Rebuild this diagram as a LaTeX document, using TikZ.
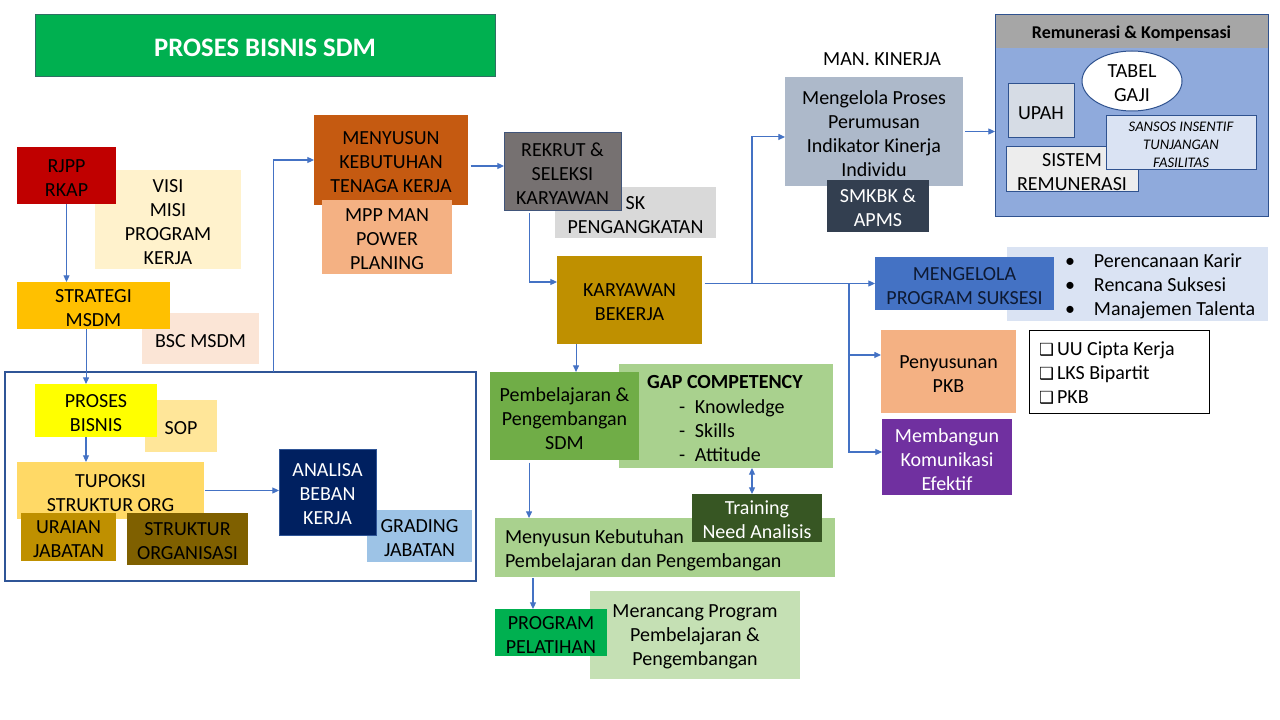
\documentclass[tikz,border=0pt]{standalone}
\usepackage{fontspec}
\setmainfont{Carlito}
\newfontfamily\djv{DejaVu Sans}
\usetikzlibrary{arrows.meta,shapes.geometric,calc}
\definecolor{cTitle}{HTML}{00B050}
\definecolor{cTitleB}{HTML}{2F6F63}
\definecolor{cRed}{HTML}{C00000}
\definecolor{cVisi}{HTML}{FFF2CC}
\definecolor{cStrat}{HTML}{FFC000}
\definecolor{cBsc}{HTML}{FBE5D6}
\definecolor{cFrame}{HTML}{2F5597}
\definecolor{cProses}{HTML}{FFFF00}
\definecolor{cSop}{HTML}{FFE699}
\definecolor{cTup}{HTML}{FFD966}
\definecolor{cUra}{HTML}{BF9000}
\definecolor{cStruk}{HTML}{7F6000}
\definecolor{cAnal}{HTML}{002060}
\definecolor{cAnalB}{HTML}{2F5597}
\definecolor{cGrad}{HTML}{9DC3E6}
\definecolor{cMeny}{HTML}{C55A11}
\definecolor{cMpp}{HTML}{F4B183}
\definecolor{cRek}{HTML}{767171}
\definecolor{cRekB}{HTML}{41557A}
\definecolor{cSk}{HTML}{D9D9D9}
\definecolor{cKar}{HTML}{BF9000}
\definecolor{cMkin}{HTML}{ADB9CA}
\definecolor{cSmk}{HTML}{333F50}
\definecolor{cRemB}{HTML}{8FAADC}
\definecolor{cRemH}{HTML}{A6A6A6}
\definecolor{cBord}{HTML}{2F528F}
\definecolor{cUpah}{HTML}{D6DCE5}
\definecolor{cSansos}{HTML}{DAE3F3}
\definecolor{cSistem}{HTML}{EDEDED}
\definecolor{cBul}{HTML}{DAE3F3}
\definecolor{cSuk}{HTML}{4472C4}
\definecolor{cSukT}{HTML}{0E1A33}
\definecolor{cPkb}{HTML}{F4B183}
\definecolor{cKom}{HTML}{7030A0}
\definecolor{cGap}{HTML}{A9D18E}
\definecolor{cPemb}{HTML}{70AD47}
\definecolor{cMkeb}{HTML}{A9D18E}
\definecolor{cTna}{HTML}{375623}
\definecolor{cMer}{HTML}{C5E0B4}
\definecolor{cProg}{HTML}{00B050}
\definecolor{arrowc}{HTML}{4472C4}
\tikzset{
  bx/.style={inner sep=0pt, outer sep=0pt, align=center, text=black,
    font=\fontsize{15}{18}\selectfont},
  arr/.style={draw=arrowc, line width=0.8pt, -{Triangle[length=5pt,width=4.5pt]}},
  darr/.style={draw=arrowc, line width=0.8pt, {Triangle[length=5pt,width=4.5pt]}-{Triangle[length=5pt,width=4.5pt]}},
}
% \bxn{name}{x1}{y1}{x2}{y2}{box options}{text options}{text}  (pixel coordinates)
\newcommand\bxn[8]{%
  \pgfmathsetmacro\bxw{(#4-#2)*0.75}%
  \pgfmathsetmacro\bxh{(#5-#3)*0.75}%
  \node[bx, minimum width=\bxw pt, minimum height=\bxh pt, #6] (#1) at ({(#2+#4)/2},{(#3+#5)/2}) {};
  \node[bx, #7] (#1-t) at ([yshift=-1.6pt]#1.center) {#8};}
\newcommand\chkbox{\makebox[13.5pt][l]{\djv\fontsize{12.5}{12.5}\selectfont ❑}}
\newcommand\bulitem{\makebox[21.75pt][l]{•}}
\newcommand\dashitem{\makebox[12pt][l]{-}}
\begin{document}
\begin{tikzpicture}[x=0.75pt,y=-0.75pt]
\useasboundingbox (0,0) rectangle (1280,720);
\fill[white] (0,0) rectangle (1280,720);
% title
\bxn{title}{35}{15}{495}{77}{fill=cTitle, draw=cTitleB, line width=0.75pt}{text=white, font=\bfseries\fontsize{20}{24}\selectfont}{PROSES BISNIS SDM}
% left column
\bxn{visi}{95}{170}{241}{269}{fill=cVisi}{}{VISI\\MISI\\PROGRAM\\KERJA}
\bxn{rjpp}{17}{147}{116}{204}{fill=cRed}{}{RJPP\\RKAP}
\bxn{bsc}{142}{313}{259}{364}{fill=cBsc}{}{BSC MSDM}
\bxn{strat}{17}{282}{170}{329}{fill=cStrat}{}{STRATEGI\\MSDM}
\node[bx, draw=cFrame, line width=0.8pt, minimum width=353.25pt, minimum height=156.75pt] (frame) at (240.5,476.5) {};
\bxn{sop}{145}{400}{217}{452}{fill=cSop}{}{SOP}
\bxn{proses}{35}{384}{157}{437}{fill=cProses}{}{PROSES\\BISNIS}
\bxn{tup}{17}{462}{204}{519}{fill=cTup}{}{TUPOKSI\\STRUKTUR ORG}
\bxn{ura}{21}{513}{116}{561}{fill=cUra}{}{URAIAN\\JABATAN}
\bxn{struk}{127}{513}{248}{565}{fill=cStruk}{}{STRUKTUR\\ORGANISASI}
\bxn{grad}{367}{510}{472}{562}{fill=cGrad}{}{GRADING\\JABATAN}
\bxn{anal}{279}{449}{376}{535}{fill=cAnal, draw=cAnalB, line width=0.75pt}{text=white}{ANALISA\\BEBAN\\KERJA}
% middle top
\bxn{meny}{314}{115}{468}{205}{fill=cMeny}{}{MENYUSUN\\KEBUTUHAN\\TENAGA KERJA}
\bxn{mpp}{322}{200}{452}{274}{fill=cMpp}{}{MPP MAN\\POWER\\PLANING}
\bxn{sk}{555}{187}{716}{238}{fill=cSk}{}{SK\\PENGANGKATAN}
\bxn{rek}{504}{133}{621}{211}{fill=cRek, draw=cRekB, line width=0.75pt}{}{REKRUT \&\\SELEKSI\\KARYAWAN}
\bxn{kar}{557}{256}{702}{344}{fill=cKar}{}{KARYAWAN\\BEKERJA}
% kinerja
\node[bx] (mank) at (882,59) {MAN. KINERJA};
\bxn{mkin}{785}{77}{963}{186}{fill=cMkin}{}{Mengelola Proses\\Perumusan\\Indikator Kinerja\\Individu}
\bxn{smk}{827}{180}{929}{232}{fill=cSmk}{text=white}{SMKBK \&\\APMS}
% remunerasi
\node[bx, fill=cRemB, draw=cBord, line width=0.75pt, minimum width=204.75pt, minimum height=151.5pt] (rem) at (1131.5,116) {};
\bxn{remh}{995.5}{15.5}{1267.5}{48}{fill=cRemH}{font=\bfseries\fontsize{13.5}{16}\selectfont}{Remunerasi \& Kompensasi}
\node[bx, ellipse, draw=cBord, line width=0.75pt, fill=white, minimum width=75pt, minimum height=45pt] (tabel) at (1132,81) {};
\node[bx] (tabel-t) at ([yshift=-1.6pt]tabel.center) {TABEL\\GAJI};
\bxn{upah}{1008}{84}{1074}{138}{fill=cUpah, draw=cBord, line width=0.75pt}{}{UPAH}
\bxn{sistem}{1006}{147}{1138}{192}{fill=cSistem, draw=cBord, line width=0.75pt}{}{SISTEM\\REMUNERASI}
\bxn{sansos}{1106}{116}{1256}{170}{fill=cSansos, draw=cBord, line width=0.75pt}{font=\itshape\fontsize{11}{13.5}\selectfont}{SANSOS INSENTIF\\TUNJANGAN\\FASILITAS}
% suksesi
\node[bx, fill=cBul, minimum width=195.75pt, minimum height=55.5pt] (bul) at (1137.5,284) {};
\node[bx, anchor=west, align=left] (bult) at (1065,286) {\bulitem Perencanaan Karir\\\bulitem Rencana Suksesi\\\bulitem Manajemen Talenta};
\bxn{suk}{875}{257}{1054}{310}{fill=cSuk}{text=cSukT}{MENGELOLA\\PROGRAM SUKSESI}
% pkb
\bxn{pkb}{881}{330}{1016}{413}{fill=cPkb}{}{Penyusunan\\PKB}
\node[bx, draw=black, line width=0.75pt, fill=white, minimum width=135pt, minimum height=62.25pt] (chk) at (1119,371.5) {};
\node[bx, anchor=west, align=left] (chkt) at (1039,373) {\chkbox UU Cipta Kerja\\\chkbox LKS Bipartit\\\chkbox PKB};
\bxn{kom}{882}{419}{1012}{495}{fill=cKom}{text=white}{Membangun\\Komunikasi\\Efektif}
% learning
\node[bx, fill=cGap, minimum width=160.5pt, minimum height=78pt] (gap) at (726,416) {};
\node[bx, anchor=west, font=\bfseries\fontsize{15}{18}\selectfont] (gapt) at (647,382) {GAP COMPETENCY};
\node[bx, anchor=west, align=left] (gapl) at (679,431) {\dashitem Knowledge\\\dashitem Skills\\\dashitem Attitude};
\bxn{pemb}{490}{372}{639}{460}{fill=cPemb}{}{Pembelajaran \&\\Pengembangan\\SDM}
\node[bx, fill=cMkeb, minimum width=255pt, minimum height=44.25pt] (mkeb) at (665,547.5) {};
\node[bx, anchor=west, align=left] (mkebt) at (505,550) {Menyusun Kebutuhan\\Pembelajaran dan Pengembangan};
\bxn{tna}{692}{494}{822}{542}{fill=cTna}{text=white}{Training\\Need Analisis}
\bxn{mer}{590}{591}{800}{679}{fill=cMer}{}{Merancang Program\\Pembelajaran \&\\Pengembangan}
\bxn{prog}{495}{609}{607}{656}{fill=cProg}{}{PROGRAM\\PELATIHAN}
% junctions
\coordinate (j1) at (752,284);
\coordinate (j2) at (849,284);
% connectors
\draw[arr] (rjpp.south) -- (rjpp.south |- strat.north);
\draw[arr] ([xshift=-5.6pt]strat.south) -- ([xshift=-5.6pt]strat.south |- proses.north);
\draw[arr] ([xshift=-7.5pt]proses.south) -- ([xshift=-7.5pt]proses.south |- tup.north);
\draw[arr, shorten <=1pt] (tup.east) -- (tup.east -| anal.west);
\draw[arr] ([xshift=24.4pt]frame.north) |- (meny.west);
\draw[arr, shorten <=2pt] ([yshift=-4.5pt]meny.east) -- ([yshift=-4.5pt]meny.east -| rek.west);
\draw[arr, shorten <=1.5pt] ([xshift=-25.1pt]rek.south) |- ([yshift=13.5pt]kar.west);
\draw[arr, shorten <=2pt] (kar.east |- suk.west) -- (suk.west);
\draw[arr] (j1) |- ([yshift=-4.1pt]mkin.west);
\draw[arr] (j2) |- ([yshift=12.4pt]pkb.west);
\draw[arr] (j2) |- ([yshift=3.75pt]kom.west);
\draw[arr, shorten <=1.5pt] (mkin.east) -- (mkin.east -| rem.west);
\draw[arr] ([xshift=-40.1pt]kar.south) -- ([xshift=-40.1pt]kar.south |- pemb.north);
\draw[arr, shorten <=2pt] ([xshift=-26.6pt]pemb.south) -- ([xshift=-26.6pt]pemb.south |- mkeb.north);
\draw[arr, shorten <=1pt] ([xshift=-99pt]mkeb.south) -- ([xshift=-99pt]mkeb.south |- prog.north);
\draw[darr] ([xshift=-3.75pt]tna.north) -- ([xshift=-3.75pt]tna.north |- gap.south);
\end{tikzpicture}
\end{document}
